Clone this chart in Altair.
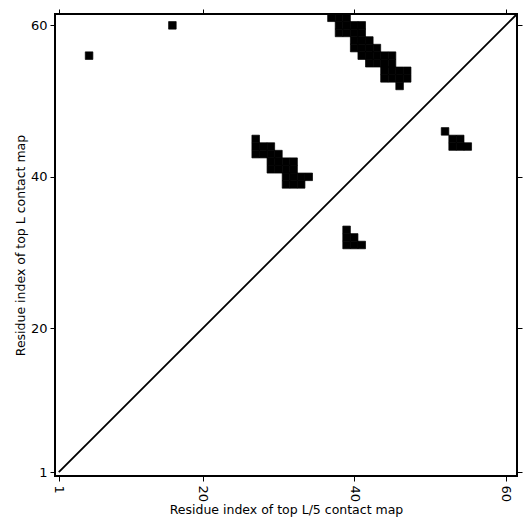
import altair as alt
import pandas as pd

# Contact cells (x = residue i, y = residue j)
contact_x = [
    5, 16,
    37, 38, 39,
    38, 39, 40, 41,
    38, 39, 40, 41,
    40, 41, 42,
    40, 41, 42, 43,
    41, 42, 43, 44, 45,
    42, 43, 44, 45,
    44, 45, 46, 47,
    44, 45, 46, 47,
    46,
    27,
    27, 28, 29,
    27, 28, 29, 30,
    29, 30, 31, 32,
    29, 30, 31, 32,
    31, 32, 33, 34,
    31, 32, 33,
    39,
    39, 40,
    39, 40, 41,
    52,
    53, 54,
    53, 54, 55,
]
contact_y = [
    56, 60,
    61, 61, 61,
    60, 60, 60, 60,
    59, 59, 59, 59,
    58, 58, 58,
    57, 57, 57, 57,
    56, 56, 56, 56, 56,
    55, 55, 55, 55,
    54, 54, 54, 54,
    53, 53, 53, 53,
    52,
    45,
    44, 44, 44,
    43, 43, 43, 43,
    42, 42, 42, 42,
    41, 41, 41, 41,
    40, 40, 40, 40,
    39, 39, 39,
    33,
    32, 32,
    31, 31, 31,
    46,
    45, 45,
    44, 44, 44,
]
diag_x = [1, 61.5]
diag_y = [1, 61.5]
tick_values = [1, 20, 40, 60]
domain = [0.5, 61.5]

cells = pd.DataFrame({"i": contact_x, "j": contact_y})
diag = pd.DataFrame({"x": diag_x, "y": diag_y})

xs = alt.Scale(domain=domain, nice=False, zero=False)
ys = alt.Scale(domain=domain, nice=False, zero=False)

tick_style = dict(values=tick_values, grid=False, domain=False, tickSize=5,
                  tickColor="black", tickWidth=1, labelColor="black",
                  labelFont="DejaVu Sans", labelFontSize=13)
title_style = dict(titleFont="DejaVu Sans", titleFontSize=12.5,
                   titleFontWeight="normal", titleColor="black")

rects = alt.Chart(cells).transform_calculate(
    x0="datum.i - 0.5", x1="datum.i + 0.5",
    y0="datum.j - 0.5", y1="datum.j + 0.5",
).mark_rect(color="black", stroke="black", strokeWidth=0.7,
            strokeJoin="miter").encode(
    x=alt.X("x0:Q", scale=xs,
            axis=alt.Axis(orient="bottom", labelAngle=90, labelAlign="left",
                          labelBaseline="middle", labelPadding=4,
                          title="Residue index of top L/5 contact map",
                          titlePadding=2, **tick_style, **title_style)),
    x2="x1:Q",
    y=alt.Y("y0:Q", scale=ys,
            axis=alt.Axis(orient="left", labelPadding=3,
                          title="Residue index of top L contact map",
                          titlePadding=3, **tick_style, **title_style)),
    y2="y1:Q",
)

line = alt.Chart(diag).mark_line(color="black", strokeWidth=1.8).encode(
    x=alt.X("x:Q", scale=xs,
            axis=alt.Axis(orient="top", labels=False, title=None, **tick_style)),
    y=alt.Y("y:Q", scale=ys,
            axis=alt.Axis(orient="right", labels=False, title=None, **tick_style)),
)

chart = alt.layer(rects, line).resolve_axis(
    x="independent", y="independent"
).properties(
    width=462, height=462,
    autosize=alt.AutoSizeParams(type="none"),
    padding={"left": 47, "top": 6, "right": 6, "bottom": 47},
).configure_view(stroke="black", strokeWidth=2)

chart.save("out.html", embed_options={"renderer": "svg", "actions": False})
